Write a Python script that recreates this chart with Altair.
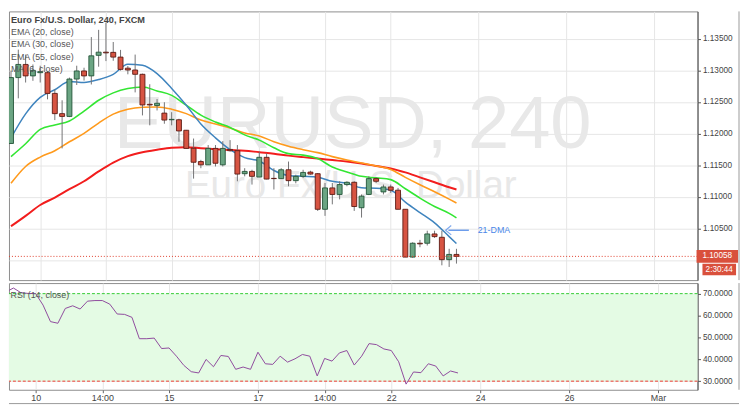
import altair as alt
import pandas as pd

# ---------------- data (4-hour candles, index 0..61) ----------------
idx = list(range(62))
opens = [1.11844, 1.12886, 1.13094, 1.12913, 1.12964, 1.12964, 1.12636, 1.12316, 1.12272, 1.12863,
         1.12991, 1.12913, 1.13238, 1.13288, 1.13285, 1.13210, 1.13035, 1.13006, 1.12938, 1.12464,
         1.12444, 1.12324, 1.12219, 1.12219, 1.12053, 1.11769, 1.11558, 1.11506, 1.11766, 1.11506,
         1.11750, 1.11730, 1.11366, 1.11402, 1.11313, 1.11625, 1.11292, 1.11288, 1.11428, 1.11256,
         1.11324, 1.11391, 1.11366, 1.10803, 1.11141, 1.11038, 1.11194, 1.11230, 1.10828, 1.11038,
         1.11288, 1.11078, 1.11156, 1.11105, 1.10803, 1.10047, 1.10266, 1.10266, 1.10413, 1.10360,
         1.10006, 1.10089]
highs = [1.12996, 1.13328, 1.13250, 1.13094, 1.13074, 1.12991, 1.12699, 1.12527, 1.12886, 1.13074,
         1.13042, 1.13527, 1.13641, 1.13756, 1.13449, 1.13324, 1.13069, 1.13250, 1.12949, 1.12781,
         1.12547, 1.12496, 1.12339, 1.12235, 1.12058, 1.11922, 1.11585, 1.11819, 1.11819, 1.11881,
         1.11897, 1.11819, 1.11453, 1.11428, 1.11714, 1.11688, 1.11453, 1.11453, 1.11558, 1.11350,
         1.11428, 1.11413, 1.11375, 1.11219, 1.11219, 1.11246, 1.11246, 1.11246, 1.11038, 1.11324,
         1.11308, 1.11194, 1.11194, 1.11141, 1.10803, 1.10281, 1.10319, 1.10464, 1.10464, 1.10464,
         1.10178, 1.10178]
lows = [1.11839, 1.12558, 1.12808, 1.12835, 1.12808, 1.12542, 1.12214, 1.11766, 1.12261, 1.12769,
        1.12839, 1.12777, 1.13058, 1.13147, 1.13152, 1.12996, 1.12938, 1.12652, 1.12288, 1.12131,
        1.12366, 1.12156, 1.12131, 1.11871, 1.11761, 1.11288, 1.11453, 1.11506, 1.11480, 1.11480,
        1.11714, 1.11246, 1.11324, 1.11194, 1.11313, 1.11277, 1.11116, 1.11288, 1.11167, 1.11214,
        1.11297, 1.11350, 1.10777, 1.10699, 1.10881, 1.10960, 1.11167, 1.10777, 1.10672, 1.11027,
        1.11219, 1.11038, 1.11063, 1.10803, 1.10047, 1.10038, 1.10203, 1.10230, 1.10350, 1.09917,
        1.09891, 1.09944]
closes = [1.12886, 1.13094, 1.12913, 1.13000, 1.12980, 1.12636, 1.12316, 1.12272, 1.12863, 1.12991,
          1.12913, 1.13230, 1.13288, 1.13277, 1.13210, 1.13016, 1.13006, 1.12938, 1.12453, 1.12453,
          1.12480, 1.12214, 1.12225, 1.12042, 1.11766, 1.11547, 1.11506, 1.11766, 1.11531, 1.11766,
          1.11730, 1.11360, 1.11402, 1.11324, 1.11625, 1.11281, 1.11288, 1.11428, 1.11256, 1.11324,
          1.11386, 1.11360, 1.10803, 1.11141, 1.11038, 1.11194, 1.11230, 1.10847, 1.11011, 1.11288,
          1.11246, 1.11156, 1.11105, 1.10803, 1.10047, 1.10266, 1.10256, 1.10413, 1.10371, 1.10006,
          1.10089, 1.10058]

ma_idx = [0, 2, 4, 6, 8, 10, 12, 14, 16, 18, 20, 22, 24, 26, 28, 30, 32, 34, 36, 38, 40, 42, 44,
          46, 48, 50, 52, 54, 56, 58, 60, 61]
ema20 = [1.11933, 1.12313, 1.12574, 1.12694, 1.12824, 1.12808, 1.12855, 1.12938, 1.13097, 1.13081,
         1.12949, 1.12714, 1.12449, 1.12152, 1.11933, 1.11746, 1.11621, 1.11566, 1.11417, 1.11339,
         1.11324, 1.11308, 1.11246, 1.11214, 1.11144, 1.11136, 1.11105, 1.10917, 1.10750, 1.10589,
         1.10371, 1.10261]
ema30 = [1.11636, 1.11839, 1.12066, 1.12136, 1.12199, 1.12355, 1.12527, 1.12644, 1.12714, 1.12738,
         1.12675, 1.12605, 1.12449, 1.12292, 1.12183, 1.12097, 1.11980, 1.11897, 1.11777, 1.11683,
         1.11660, 1.11605, 1.11472, 1.11394, 1.11324, 1.11300, 1.11272, 1.11128, 1.10980, 1.10847,
         1.10738, 1.10667]
ema55 = [1.11214, 1.11480, 1.11628, 1.11730, 1.11871, 1.12003, 1.12167, 1.12308, 1.12386, 1.12417,
         1.12422, 1.12386, 1.12316, 1.12214, 1.12152, 1.12089, 1.12011, 1.11964, 1.11871, 1.11800,
         1.11746, 1.11699, 1.11636, 1.11581, 1.11535, 1.11488, 1.11433, 1.11308, 1.11191, 1.11081,
         1.10964, 1.10902]
ma_red = [1.10535, 1.10699, 1.10871, 1.10988, 1.11121, 1.11246, 1.11402, 1.11542, 1.11644, 1.11706,
          1.11746, 1.11777, 1.11785, 1.11769, 1.11753, 1.11741, 1.11730, 1.11706, 1.11683, 1.11652,
          1.11628, 1.11605, 1.11581, 1.11558, 1.11527, 1.11488, 1.11449, 1.11386, 1.11308, 1.11230,
          1.11152, 1.11116]

rsi = [70.77, 72.57, 70.45, 70.09, 70.00, 64.76, 57.22, 56.46, 63.23, 64.45, 62.96, 66.57, 66.84,
       66.84, 65.21, 60.70, 60.52, 59.16, 49.41, 49.41, 49.68, 44.90, 45.17, 41.42, 37.22, 34.33,
       33.75, 39.93, 36.59, 41.74, 41.29, 35.42, 36.46, 35.42, 43.23, 37.95, 37.67, 41.42, 38.71,
       40.20, 42.19, 41.42, 32.39, 40.38, 39.16, 42.91, 44.00, 37.36, 41.42, 47.16, 46.70, 44.72,
       44.00, 38.85, 28.65, 34.20, 33.88, 37.95, 36.91, 32.39, 34.65, 33.75]

tick_pos = [4, 13, 22, 34, 43, 52, 64, 76, 88]
tick_lab = ["10", "14:00", "15", "17", "14:00", "22", "24", "26", "Mar"]
price_ticks = [1.100, 1.105, 1.110, 1.115, 1.120, 1.125, 1.130, 1.135]
rsi_ticks = [30, 40, 50, 60, 70]
rsi_upper, rsi_lower = 70, 30
last_price = 1.10058
countdown = "2:30:44"
arrow_x = [59.9, 62.7]
arrow_price = 1.10472
legend_title = "Euro Fx/U.S. Dollar, 240, FXCM"
legend_lines = ["EMA (20, close)", "EMA (30, close)", "EMA (55, close)", "MA (6, close)"]

# ---------------- layout ----------------
W, H1, H2 = 697, 272, 108
xdom = [0.4, 93.333]
ydom = [1.096828, 1.139328]
rdom = [26.07, 74.83]
FONT = "Liberation Sans"
GRID = "#e6e6e6"

label_expr = " : ".join(f"datum.value == {p} ? '{l}'" for p, l in zip(tick_pos, tick_lab)) + " : ''"

xscale = alt.Scale(domain=xdom, nice=False, zero=False)
yscale = alt.Scale(domain=ydom, nice=False, zero=False)
rscale = alt.Scale(domain=rdom, nice=False, zero=False)

x_axis_main = alt.Axis(values=tick_pos, labels=False, ticks=False, domain=False, grid=True,
                       gridColor=GRID, title=None)
y_axis_main = alt.Axis(orient="right", values=price_ticks, grid=True, gridColor=GRID, title=None,
                       labelExpr="datum.value < 1.1025 ? '' : format(datum.value, '.5f')",
                       labelFont=FONT, labelFontSize=8.3, labelColor="#444", tickSize=3,
                       tickColor="#555", domainColor="#555", labelPadding=2, zindex=0)
x_axis_rsi = alt.Axis(values=tick_pos, labelExpr=label_expr, grid=True, gridColor=GRID, title=None,
                      domain=False, tickSize=3, tickColor="#666", labelFont=FONT, labelFontSize=9,
                      labelColor="#444", labelPadding=1)
y_axis_rsi = alt.Axis(orient="right", values=rsi_ticks, format=".4f", grid=True, gridColor=GRID,
                      title=None, labelFont=FONT, labelFontSize=8.3, labelColor="#444", tickSize=3,
                      tickColor="#555", domainColor="#555", labelPadding=2, zindex=0)


def X(f):
    return alt.X(f"{f}:Q", scale=xscale, axis=x_axis_main)


def Y(f):
    return alt.Y(f"{f}:Q", scale=yscale, axis=y_axis_main)


candles = pd.DataFrame(dict(i=idx, o=opens, h=highs, l=lows, c=closes))
up = "datum.c >= datum.o"

wm = pd.DataFrame({"t": ["EURUSD, 240"]})
wm2 = pd.DataFrame({"t": ["Euro Fx/U.S. Dollar"]})
watermark = alt.Chart(wm).mark_text(font=FONT, fontSize=75, color="#e8e8e8", align="center",
                                    baseline="alphabetic").encode(
    x=alt.value(348), y=alt.value(138.5), text="t:N")
watermark2 = alt.Chart(wm2).mark_text(font=FONT, fontSize=39, color="#e8e8e8", align="center",
                                      baseline="alphabetic").encode(
    x=alt.value(346), y=alt.value(189), text="t:N")

line_layers = []
for vals, col, sw in [(ma_red, "#f21d1d", 2), (ema55, "#ff9a1c", 1.6), (ema30, "#33e633", 1.6),
                      (ema20, "#3f84be", 1.5)]:
    d = pd.DataFrame({"i": ma_idx, "p": vals})
    line_layers.append(alt.Chart(d).mark_line(color=col, strokeWidth=sw, clip=True,
                                              interpolate="monotone").encode(x=X("i"), y=Y("p")))

wicks = alt.Chart(candles).mark_rule(color="#737375", strokeWidth=1, clip=True).encode(
    x=X("i"), y=Y("l"), y2="h:Q")
bodies = alt.Chart(candles).mark_bar(width=5, strokeWidth=0.9, clip=True).encode(
    x=X("i"), y=Y("o"), y2="c:Q",
    color=alt.condition(up, alt.value("#6ba583"), alt.value("#d75442")),
    stroke=alt.condition(up, alt.value("#225437"), alt.value("#5b1a13")))

lp = pd.DataFrame({"p": [last_price], "t": [f"{last_price:.5f}"], "cd": [countdown]})
price_line = alt.Chart(lp).mark_rule(color="#e0402e", strokeDash=[1, 2], strokeWidth=1).encode(y=Y("p"))
tag_box = alt.Chart(lp).mark_rect(color="#d9503c", yOffset=-6.5, y2Offset=6.5).encode(
    y=Y("p"), y2="p:Q", x=alt.value(W - 1), x2=alt.value(W + 41))
tag_text = alt.Chart(lp).mark_text(color="white", font=FONT, fontSize=8.3, align="left",
                                   baseline="middle").encode(
    y=Y("p"), x=alt.value(W + 5), text="t:N")
cd_box = alt.Chart(lp).mark_rect(color="#d9503c", yOffset=7.5, y2Offset=19).encode(
    y=Y("p"), y2="p:Q", x=alt.value(W + 5), x2=alt.value(W + 39))
cd_text = alt.Chart(lp).mark_text(color="white", font=FONT, fontSize=8.3, align="center",
                                  baseline="middle", dy=13.3).encode(
    y=Y("p"), x=alt.value(W + 22), text="cd:N")

arr = pd.DataFrame({"x1": [arrow_x[0]], "x2": [arrow_x[1]], "p": [arrow_price], "t": ["21-DMA"],
                    "tx": [63.9]})
arrow_shaft = alt.Chart(arr).mark_rule(color="#4a86e8", strokeWidth=1.2).encode(
    x=X("x1"), x2="x2:Q", y=Y("p"))
arrow_head = alt.Chart(arr).mark_point(shape="M 0.6 -1 L -0.6 0 L 0.6 1", filled=False,
                                       color="#4a86e8", size=90, strokeWidth=1.2).encode(
    x=X("x1"), y=Y("p"))
arrow_text = alt.Chart(arr).mark_text(color="#4a86e8", font=FONT, fontSize=9, align="left",
                                      baseline="middle").encode(x=X("tx"), y=Y("p"), text="t:N")

lt = pd.DataFrame({"t": [legend_title]})
ll = pd.DataFrame({"t": ["\n".join(legend_lines)]})
leg_title = alt.Chart(lt).mark_text(font=FONT, fontSize=9.3, fontWeight="bold", color="#444",
                                    align="left", baseline="alphabetic").encode(
    x=alt.value(2), y=alt.value(11.5), text="t:N")
leg_lines = alt.Chart(ll).mark_text(font=FONT, fontSize=9, color="#555", align="left",
                                    baseline="alphabetic", lineBreak="\n", lineHeight=12.5).encode(
    x=alt.value(2), y=alt.value(24), text="t:N")

border = pd.DataFrame({"k": [1]})
frame_main = alt.Chart(border).mark_rule(color="#999").encode(x=alt.value(W + 42))

main = alt.layer(watermark, watermark2, *line_layers, wicks, bodies, price_line, tag_box, tag_text,
                 cd_box, cd_text, arrow_shaft, arrow_head, arrow_text, leg_title, leg_lines,
                 frame_main).properties(width=W, height=H1)

# ---------------- RSI panel ----------------
XR = alt.X("i:Q", scale=xscale, axis=x_axis_rsi)
rsi_df = pd.DataFrame({"i": idx, "r": rsi})
band_df = pd.DataFrame({"hi": [rsi_upper], "lo": [rsi_lower]})
band = alt.Chart(band_df).mark_rect(color="#e4fbe4").encode(
    y=alt.Y("hi:Q", scale=rscale, axis=y_axis_rsi), y2="lo:Q", x=alt.value(0), x2=alt.value(W))
upper = alt.Chart(band_df).mark_rule(color="#33cc33", strokeDash=[3, 2]).encode(
    y=alt.Y("hi:Q", scale=rscale, axis=y_axis_rsi))
lower = alt.Chart(band_df).mark_rule(color="#f03a30", strokeDash=[3, 2]).encode(
    y=alt.Y("lo:Q", scale=rscale, axis=y_axis_rsi))
rsi_line = alt.Chart(rsi_df).mark_line(color="#8e4a9c", strokeWidth=1, clip=True).encode(
    x=XR, y=alt.Y("r:Q", scale=rscale, axis=y_axis_rsi))
rsi_lab = alt.Chart(pd.DataFrame({"t": ["RSI (14, close)"]})).mark_text(
    font=FONT, fontSize=9, color="#555", align="left", baseline="alphabetic").encode(
    x=alt.value(1.5), y=alt.value(15.5), text="t:N")
frame_rsi = alt.Chart(border).mark_rule(color="#999").encode(x=alt.value(W + 42))
frame_bottom = alt.Chart(border).mark_rule(color="#999").encode(
    y=alt.value(H2 + 14), x=alt.value(0), x2=alt.value(W + 42))

rsi_panel = alt.layer(band, upper, lower, rsi_line, rsi_lab, frame_rsi, frame_bottom).properties(
    width=W, height=H2)

chart = alt.vconcat(main, rsi_panel, spacing=1).properties(padding=0, background="white").configure_view(
    stroke="#8c8c8c", strokeWidth=1)

chart.save("out.html", embed_options={"renderer": "svg", "actions": False})
